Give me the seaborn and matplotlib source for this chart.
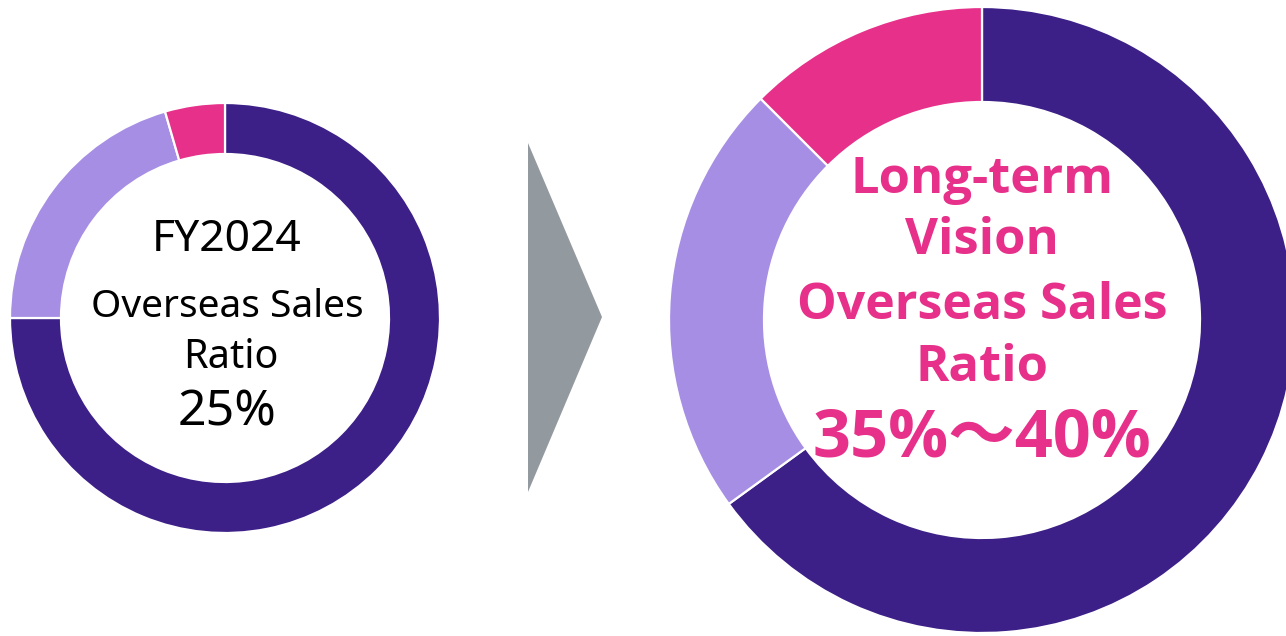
import matplotlib
matplotlib.use("Agg")
import matplotlib.pyplot as plt
from matplotlib.patches import Polygon
import seaborn as sns

# ---- data ----
segments = ["Domestic", "Overseas A", "Overseas B"]
fy2024_values = [75.0, 20.5, 4.5]
vision_values = [65.0, 22.5, 12.5]
colors = ["#3c1f87", "#a58ee4", "#e6308a"]

left_lines = ["FY2024", "Overseas Sales", "Ratio", "25%"]
right_lines = ["Long-term", "Vision", "Overseas Sales", "Ratio", "35%～40%"]

sns.set_theme(style="white")
plt.rcParams["font.family"] = ["Noto Sans", "Noto Sans CJK JP", "DejaVu Sans"]

W, H = 1286, 636
fig = plt.figure(figsize=(W / 100, H / 100), dpi=100)
ax = fig.add_axes([0, 0, 1, 1])

wedge_kw = dict(edgecolor="white", linewidth=1.6)

ax.pie(fy2024_values, colors=colors, startangle=90, counterclock=False,
       center=(225, H - 318), radius=215,
       wedgeprops=dict(width=51, **wedge_kw), frame=True)
ax.pie(vision_values, colors=colors, startangle=90, counterclock=False,
       center=(982, H - 320), radius=313,
       wedgeprops=dict(width=95, **wedge_kw), frame=True)

ax.add_patch(Polygon([(528, H - 143), (528, H - 492), (602, H - 317)],
                     closed=True, facecolor="#939a9f", edgecolor="none"))

ax.set_xlim(0, W)
ax.set_ylim(0, H)
ax.set_aspect("equal")
ax.axis("off")

left_x = [227, 227, 231, 227]
left_y = [240, 307, 358, 412]
left_sizes = [32, 28, 28.5, 36]
for t, x, y, s in zip(left_lines, left_x, left_y, left_sizes):
    ax.text(x, H - y, t, ha="center", va="center", fontsize=s, color="black")

pink = "#e6308a"
right_y = [180, 241, 306, 368, 439]
right_sizes = [36.5, 36.5, 36, 36.5, 48]
for t, y, s in zip(right_lines, right_y, right_sizes):
    ax.text(982, H - y, t, ha="center", va="center", fontsize=s,
            color=pink, fontweight="bold",
            family=["Open Sans", "Noto Sans CJK JP", "DejaVu Sans"])

fig.savefig("out.png", dpi=100)
